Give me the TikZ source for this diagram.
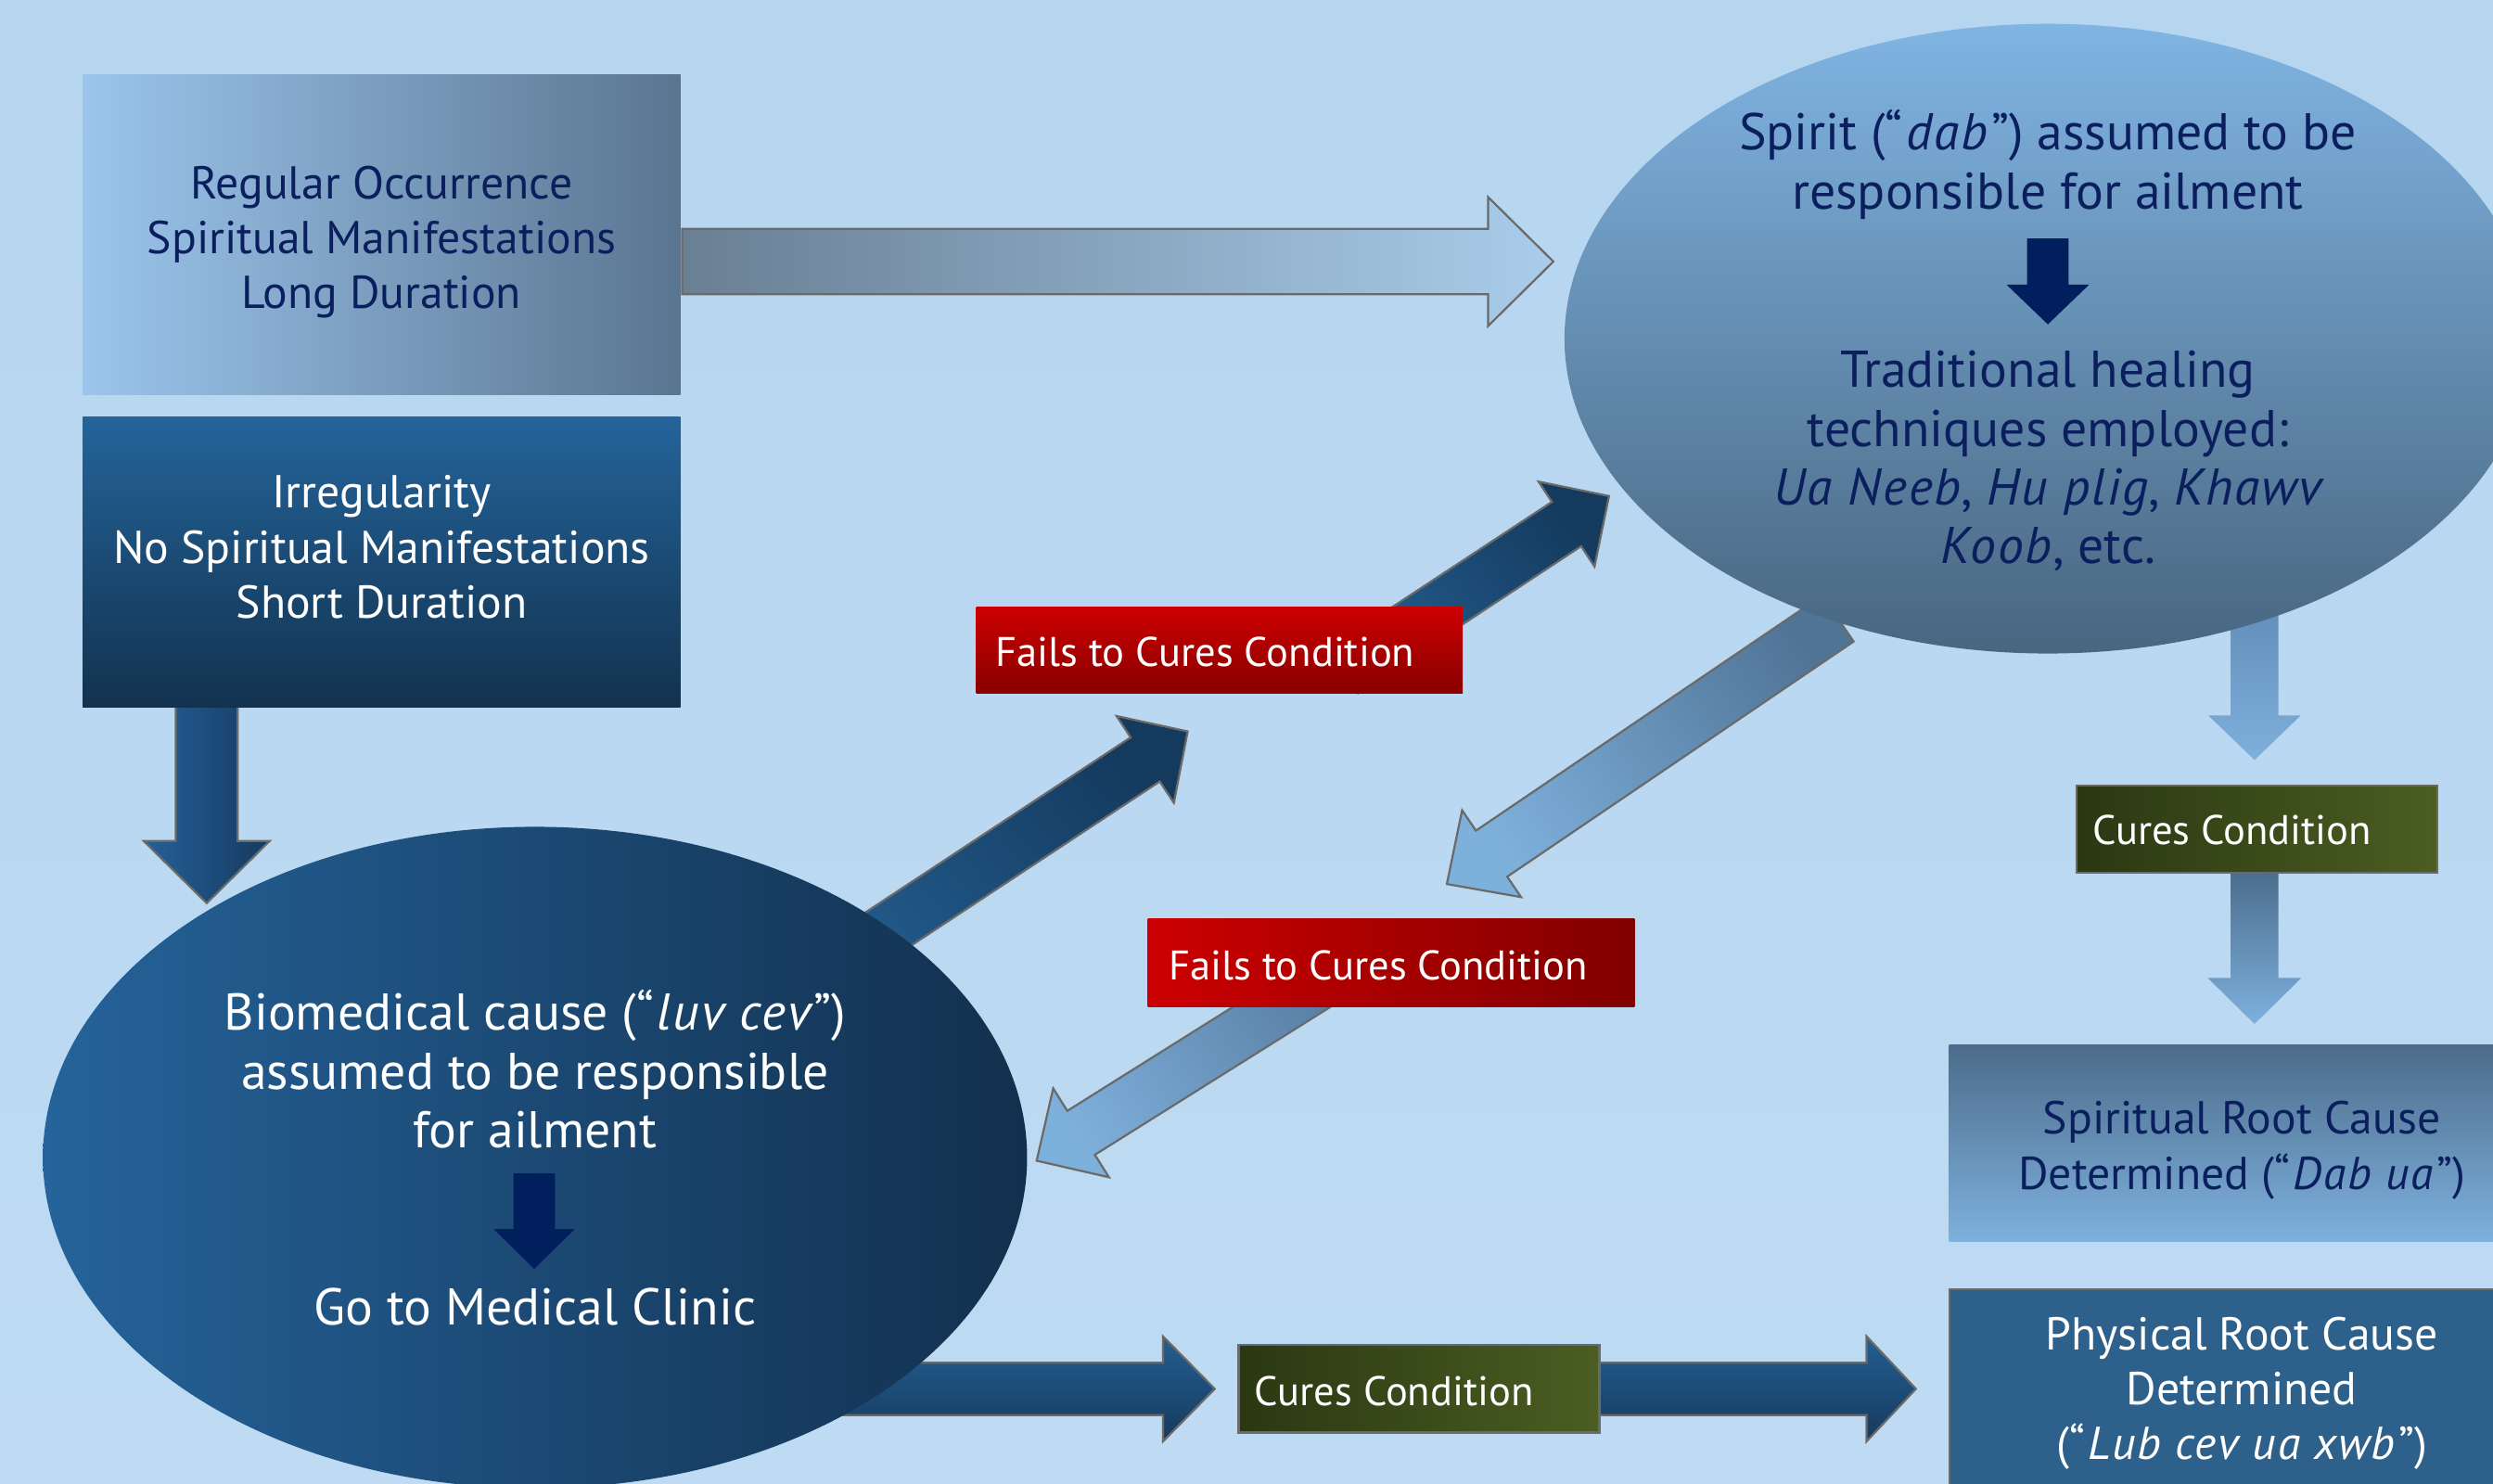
\documentclass[tikz,border=0pt]{standalone}
\usepackage{fontspec}
\setmainfont{PT Sans}
\usetikzlibrary{calc,shapes.geometric}
\definecolor{bgtop}{HTML}{B6D5EF}
\definecolor{bgbot}{HTML}{BEDBF3}
\definecolor{navytxt}{HTML}{0B1F5E}
\definecolor{navyarr}{HTML}{001F5C}
\definecolor{edgegray}{HTML}{6A6A6A}
\definecolor{cL}{RGB}{105,127,148}
\definecolor{cR}{RGB}{169,205,235}
\definecolor{dbA}{RGB}{36,96,154}
\definecolor{dbB}{RGB}{22,58,94}
\definecolor{dbC}{RGB}{36,94,144}
\definecolor{dbD}{RGB}{20,58,94}
\definecolor{lbA}{RGB}{80,116,150}
\definecolor{lbB}{RGB}{126,176,220}
\definecolor{lbC}{RGB}{90,128,165}
\definecolor{lbD}{RGB}{92,136,178}
\definecolor{lbE}{RGB}{76,110,142}
\definecolor{elTop}{RGB}{128,180,226}
\definecolor{elBot}{RGB}{72,102,128}
\definecolor{bioL}{RGB}{37,99,154}
\definecolor{bioR}{RGB}{18,48,78}
\definecolor{regL}{RGB}{155,197,236}
\definecolor{regR}{RGB}{90,117,144}
\definecolor{irrT}{RGB}{36,100,154}
\definecolor{irrB}{RGB}{18,50,79}
\definecolor{redA}{RGB}{204,0,0}
\definecolor{redB}{RGB}{136,0,0}
\definecolor{redC}{RGB}{128,0,0}
\definecolor{grnL}{RGB}{42,56,18}
\definecolor{grnR}{RGB}{74,94,34}
\definecolor{srT}{RGB}{76,108,138}
\definecolor{srB}{RGB}{126,177,222}
\definecolor{prF}{RGB}{45,96,138}
\tikzset{
  blk/.style={draw=edgegray, line width=1.3pt, line join=miter},
  boxtext/.style={align=center, inner sep=0pt, font=\fontsize{29}{34.5}\selectfont},
  elltext/.style={align=center, inner sep=0pt, font=\fontsize{32.5}{37}\selectfont},
  smalltext/.style={anchor=west, inner sep=0pt, text=white, font=\fontsize{26}{30}\selectfont},
  plainbox/.style={rectangle, inner sep=0pt, draw=none},
}
% italic with slight tracking, and quotes with a little room
\newcommand\itx[1]{{\itshape\addfontfeatures{LetterSpace=3.5}#1}}
\newcommand\oq{“\kern2pt}
\newcommand\cq{\kern2pt”}
% block arrow: style, start, tip, half body width, half head width, head length
\newcommand\blkarrow[6]{%
  \coordinate (hb) at ($(#3)!#6!(#2)$);
  \path[#1] ($(#2)!#4!90:(#3)$) -- ($(hb)!#4!90:(#3)$) -- ($(hb)!#5!90:(#3)$) -- (#3)
    -- ($(hb)!#5!-90:(#3)$) -- ($(hb)!#4!-90:(#3)$) -- ($(#2)!#4!-90:(#3)$) -- cycle;
}
\begin{document}
\begin{tikzpicture}[x=1pt,y=-1pt]
\useasboundingbox (0,0) rectangle (1568,933);
\clip (0,0) rectangle (1568,933);
\fill[top color=bgtop, bottom color=bgbot] (0,0) rectangle (1568,933);

% ---------- coordinates for block arrows ----------
\coordinate (cS) at (429,164.5);   \coordinate (cT) at (977,164.5);
\coordinate (fS) at (130,440);     \coordinate (fT) at (130,568);
\coordinate (gS) at (497,625);     \coordinate (gT) at (747,460);
\coordinate (uS) at (845,422);     \coordinate (uT) at (1012,312);
\coordinate (jS) at (1156,389);    \coordinate (jT) at (910,556);
\coordinate (kS) at (840,612);     \coordinate (kT) at (652,730);
\coordinate (lS) at (1418,360);    \coordinate (lT) at (1418,478);
\coordinate (nS) at (1418,549);    \coordinate (nT) at (1418,644);
\coordinate (qS) at (450,873.5);   \coordinate (qT) at (764,873.5);
\coordinate (sS) at (1006,873.5);  \coordinate (sT) at (1205,873.5);

% ---------- block arrows (behind shapes) ----------
\blkarrow{blk, left color=cL, right color=cR}{cS}{cT}{20.5pt}{40.5pt}{41pt}
\blkarrow{blk, left color=dbA, right color=dbB}{fS}{fT}{19.5pt}{39.5pt}{39pt}
\blkarrow{blk, top color=dbD, bottom color=dbC, shading angle=-50}{gS}{gT}{16.6pt}{32.7pt}{32pt}
\blkarrow{blk, top color=dbD, bottom color=dbC, shading angle=-50}{uS}{uT}{16.7pt}{32pt}{32pt}
\blkarrow{blk, top color=lbA, bottom color=lbB, shading angle=-55}{jS}{jT}{17.5pt}{33pt}{34pt}
\blkarrow{blk, top color=lbC, bottom color=lbB, shading angle=-55}{kS}{kT}{16.3pt}{33pt}{33pt}
\blkarrow{draw=none, top color=lbD, bottom color=lbB}{lS}{lT}{15pt}{29pt}{28pt}
\blkarrow{draw=none, top color=lbE, bottom color=lbB}{nS}{nT}{15pt}{29.5pt}{29pt}
\blkarrow{blk, top color=dbC, bottom color=dbB}{qS}{qT}{16.5pt}{33pt}{32.5pt}
\blkarrow{blk, top color=dbC, bottom color=dbB}{sS}{sT}{16.5pt}{33pt}{31pt}

% ---------- ellipses ----------
\node[ellipse, inner sep=0pt, minimum width=608pt, minimum height=396pt,
      top color=elTop, bottom color=elBot] (spirit) at (1288,213) {};
\node[ellipse, inner sep=0pt, minimum width=619pt, minimum height=416pt,
      left color=bioL, right color=bioR] (bio) at (336.5,728) {};

% ---------- boxes ----------
\node[plainbox, minimum width=376pt, minimum height=201pt,
      left color=regL, right color=regR] (reg) at (240,147.5) {};
\node[plainbox, minimum width=376pt, minimum height=183pt,
      top color=irrT, bottom color=irrB] (irr) at (240,353.5) {};
\node[plainbox, minimum width=306pt, minimum height=54pt,
      top color=redA, bottom color=redB] (fail1) at (767,409) {};
\node[plainbox, minimum width=306pt, minimum height=55pt,
      left color=redA, right color=redC] (fail2) at (875,605.5) {};
\node[plainbox, draw=edgegray, line width=1.3pt, minimum width=227pt, minimum height=55pt,
      left color=grnL, right color=grnR] (cure1) at (1419.5,521.5) {};
\node[plainbox, draw=edgegray, line width=1.3pt, minimum width=227pt, minimum height=55pt,
      left color=grnL, right color=grnR] (cure2) at (892.5,873.5) {};
\node[plainbox, minimum width=368pt, minimum height=124pt,
      top color=srT, bottom color=srB] (spirroot) at (1410,719) {};
\node[plainbox, draw=edgegray, line width=1.3pt, minimum width=368pt, minimum height=189pt,
      fill=prF] (physroot) at (1410,905.5) {};

% ---------- small navy arrows inside ellipses ----------
\coordinate (s1S) at (1288,150); \coordinate (s1T) at (1288,204);
\coordinate (s2S) at (336,738);  \coordinate (s2T) at (336,798);
\blkarrow{fill=navyarr}{s1S}{s1T}{13pt}{26pt}{25pt}
\blkarrow{fill=navyarr}{s2S}{s2T}{13pt}{25.5pt}{25pt}

% ---------- texts ----------
\node[boxtext, text=navytxt] (tReg) at (240,152.5) {Regular Occurrence\\Spiritual Manifestations\\Long Duration};
\node[boxtext, text=white] (tIrr) at (240,344) {Irregularity\\No Spiritual Manifestations\\Short Duration};
\node[elltext, text=navytxt] (tSp1) at (1288,103.5) {Spirit (\oq\itx{dab}\cq) assumed to be\\responsible for ailment};
\node[elltext, text=navytxt] (tSp2) at (1288,290) {Traditional healing\\techniques employed:\\\itx{Ua Neeb}, \itx{Hu plig}, \itx{Khawv}\\\itx{Koob}, etc.};
\node[elltext, text=white] (tBio1) at (336.5,672.5) {Biomedical cause (\oq\itx{luv cev}\cq)\\assumed to be responsible\\for ailment};
\node[elltext, text=white] (tBio2) at (336.5,822) {Go to Medical Clinic};
\node[smalltext] (tF1) at (626,410) {Fails to Cures Condition};
\node[smalltext] (tF2) at (735,607) {Fails to Cures Condition};
\node[smalltext] (tC1) at (1316,522) {Cures Condition};
\node[smalltext] (tC2) at (789,875) {Cures Condition};
\node[boxtext, text=navytxt] (tSR) at (1410,723.5) {Spiritual Root Cause\\Determined (\oq\itx{Dab ua}\cq)};
\node[boxtext, text=white] (tPR) at (1410,876.5) {Physical Root Cause\\Determined\\(\oq\itx{Lub cev ua xwb}\cq)};
\end{tikzpicture}
\end{document}
